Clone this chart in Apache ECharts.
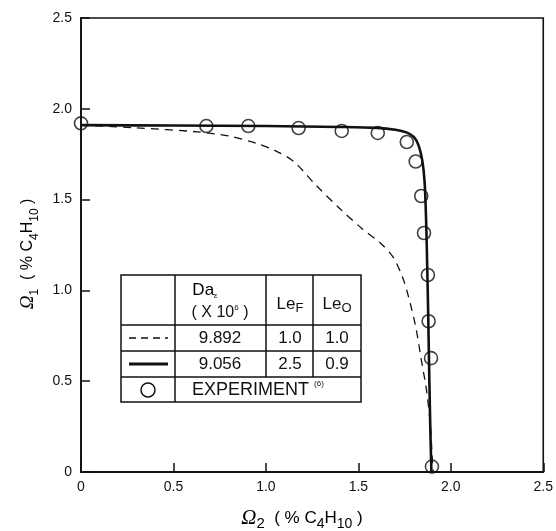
<!DOCTYPE html>
<html><head><meta charset="utf-8">
<script src="https://cdn.jsdelivr.net/npm/echarts@6/dist/echarts.min.js"></script>
<style>html,body{margin:0;padding:0;background:#fff}#c{width:556px;height:531px}</style>
</head><body><div id="c"></div>
<script>
// ---- data ----
var xTicks = ['0','0.5','1.0','1.5','2.0','2.5'];
var yTicks = ['0','0.5','1.0','1.5','2.0','2.5'];
// solid line (Da=9.056, LeF=2.5, LeO=0.9)
var solidX = [0, 0.5, 1.0, 1.4, 1.6, 1.7, 1.76, 1.8, 1.825, 1.845, 1.858, 1.866, 1.872, 1.878, 1.884, 1.89, 1.895];
var solidY = [1.91, 1.908, 1.905, 1.9, 1.895, 1.885, 1.87, 1.845, 1.8, 1.72, 1.6, 1.4, 1.15, 0.85, 0.5, 0.2, 0.0];
// dashed line (Da=9.892, LeF=1.0, LeO=1.0)
var dashX = [0, 0.3, 0.63, 0.8, 0.95, 1.05, 1.15, 1.27, 1.4, 1.52, 1.62, 1.69, 1.74, 1.77, 1.81, 1.84, 1.87, 1.89, 1.9, 1.905];
var dashY = [1.91, 1.895, 1.873, 1.85, 1.81, 1.77, 1.71, 1.58, 1.45, 1.34, 1.26, 1.18, 1.07, 0.97, 0.8, 0.62, 0.44, 0.25, 0.07, 0.0];
// experiment
var expX = [0, 0.678, 0.905, 1.177, 1.41, 1.605, 1.762, 1.81, 1.84, 1.855, 1.876, 1.88, 1.893, 1.898];
var expY = [1.92, 1.905, 1.905, 1.894, 1.878, 1.867, 1.817, 1.71, 1.52, 1.316, 1.085, 0.83, 0.627, 0.03];
// table text
var tableDa = ['9.892', '9.056'];
var tableLeF = ['1.0', '2.5'];
var tableLeO = ['1.0', '0.9'];

function pairs(xs, ys){ return xs.map(function(x,i){return [x, ys[i]];}); }

var chart = echarts.init(document.getElementById('c'), null, {renderer:'canvas'});
var FONT = '"Liberation Sans", Arial, sans-serif';
function titleRich(big){
  return {
    o:{fontSize:big?21:19, fontStyle:'italic', fontFamily:'"Liberation Serif", serif', lineHeight:26, color:'#111'},
    s:{fontSize:big?15:12, fontFamily:FONT, lineHeight:14, verticalAlign:'bottom', color:'#111'},
    t:{fontSize:big?17:16, fontFamily:FONT, lineHeight:26, color:'#111'},
    m:{fontSize:big?14:12, fontFamily:FONT, lineHeight:13, verticalAlign:'bottom', color:'#111'}
  };
}
var cellFont = '17px ' + FONT;
var g = [];
// table
var TL = 121, TT = 275, TR = 361, TB = 402;
var cx = [175, 266, 313];
var ry = [325, 351, 377];
g.push({type:'rect', shape:{x:TL, y:TT, width:TR-TL, height:TB-TT}, style:{fill:'#fff', stroke:'#111', lineWidth:1.5}, z:10});
g.push({type:'line', shape:{x1:cx[0], y1:TT, x2:cx[0], y2:TB}, style:{stroke:'#111', lineWidth:1.5}, z:11});
g.push({type:'line', shape:{x1:cx[1], y1:TT, x2:cx[1], y2:ry[2]}, style:{stroke:'#111', lineWidth:1.5}, z:11});
g.push({type:'line', shape:{x1:cx[2], y1:TT, x2:cx[2], y2:ry[2]}, style:{stroke:'#111', lineWidth:1.5}, z:11});
ry.forEach(function(y){ g.push({type:'line', shape:{x1:TL, y1:y, x2:TR, y2:y}, style:{stroke:'#111', lineWidth:1.5}, z:11}); });
// header
g.push({type:'text', x:205, y:290, z:12, style:{text:'{a|Da}{b|ε}', rich:{a:{fontSize:17, fontFamily:FONT, lineHeight:20, color:'#111'}, b:{fontSize:8, fontFamily:FONT, lineHeight:10, verticalAlign:'bottom', color:'#111'}}, align:'center', verticalAlign:'middle'}});
g.push({type:'text', x:220, y:313, z:12, style:{text:'( X 10{b|6} )', font:'16px '+FONT, fill:'#111', rich:{b:{fontSize:8, fontFamily:FONT, lineHeight:18, verticalAlign:'top', color:'#111'}}, align:'center', verticalAlign:'middle'}});
g.push({type:'text', x:290, y:304, z:12, style:{text:'Le{b|F}', font:'17px '+FONT, fill:'#111', rich:{b:{fontSize:13, fontFamily:FONT, lineHeight:12, verticalAlign:'bottom', color:'#111'}}, align:'center', verticalAlign:'middle', lineHeight:22}});
g.push({type:'text', x:337, y:304, z:12, style:{text:'Le{b|O}', font:'17px '+FONT, fill:'#111', rich:{b:{fontSize:13, fontFamily:FONT, lineHeight:12, verticalAlign:'bottom', color:'#111'}}, align:'center', verticalAlign:'middle', lineHeight:22}});
// rows
var rowMid = [338, 364];
for (var i=0;i<2;i++){
  g.push({type:'text', x:220, y:rowMid[i], z:12, style:{text:tableDa[i], font:cellFont, fill:'#111', align:'center', verticalAlign:'middle'}});
  g.push({type:'text', x:290, y:rowMid[i], z:12, style:{text:tableLeF[i], font:cellFont, fill:'#111', align:'center', verticalAlign:'middle'}});
  g.push({type:'text', x:337, y:rowMid[i], z:12, style:{text:tableLeO[i], font:cellFont, fill:'#111', align:'center', verticalAlign:'middle'}});
}
g.push({type:'line', shape:{x1:129, y1:338, x2:168, y2:338}, style:{stroke:'#111', lineWidth:1.3, lineDash:[7,5]}, z:12});
g.push({type:'line', shape:{x1:129, y1:364, x2:168, y2:364}, style:{stroke:'#111', lineWidth:2.8}, z:12});
g.push({type:'circle', shape:{cx:148, cy:390, r:7}, style:{fill:'none', stroke:'#111', lineWidth:1.5}, z:12});
g.push({type:'text', x:192, y:390, z:12, style:{text:'EXPERIMENT {b|(6)}', font:'18px '+FONT, fill:'#111', rich:{b:{fontSize:8, fontFamily:FONT, lineHeight:20, verticalAlign:'top', color:'#111'}}, align:'left', verticalAlign:'middle'}});
// axis titles
g.push({type:'text', x:302, y:518, style:{text:'{o|Ω}{s|2}{t|  ( % C}{m|4}{t|H}{m|10}{t| )}', rich:titleRich(true), align:'center', verticalAlign:'middle'}});
g.push({type:'text', x:28, y:254, rotation:Math.PI/2, style:{text:'{o|Ω}{s|1}{t|  ( % C}{m|4}{t|H}{m|10}{t| )}', rich:titleRich(false), align:'center', verticalAlign:'middle'}});

var axisCommon = {
  type:'value', min:0, max:2.5, interval:0.5,
  axisLine:{show:true, lineStyle:{color:'#111', width:1.8}},
  axisTick:{show:true, inside:true, length:9, lineStyle:{color:'#111', width:1.5}},
  splitLine:{show:false},
  axisLabel:{color:'#111', fontSize:14, fontFamily:FONT}
};
var option = {
  backgroundColor:'#fff',
  animation:false,
  grid:{left:81, right:12, top:18, bottom:59, show:true, borderColor:'#111', borderWidth:1.6, backgroundColor:'transparent'},
  xAxis:Object.assign({}, axisCommon, {axisLabel:Object.assign({}, axisCommon.axisLabel, {margin:8, formatter:function(v){return xTicks[Math.round(v/0.5)];}})}),
  yAxis:Object.assign({}, axisCommon, {axisLabel:Object.assign({}, axisCommon.axisLabel, {margin:9, formatter:function(v){return yTicks[Math.round(v/0.5)];}})}),
  series:[
    {type:'line', data:pairs(dashX, dashY), smooth:0.3, showSymbol:false, lineStyle:{color:'#111', width:1.3, type:[8,6]}, z:3},
    {type:'line', data:pairs(solidX, solidY), smooth:0.3, showSymbol:false, lineStyle:{color:'#111', width:2.6}, z:4},
    {type:'scatter', data:pairs(expX, expY), symbol:'circle', symbolSize:13, itemStyle:{color:'rgba(0,0,0,0)', borderColor:'#111', borderWidth:1.6}, z:5}
  ],
  graphic:g
};
chart.setOption(option);
</script>
</body></html>
